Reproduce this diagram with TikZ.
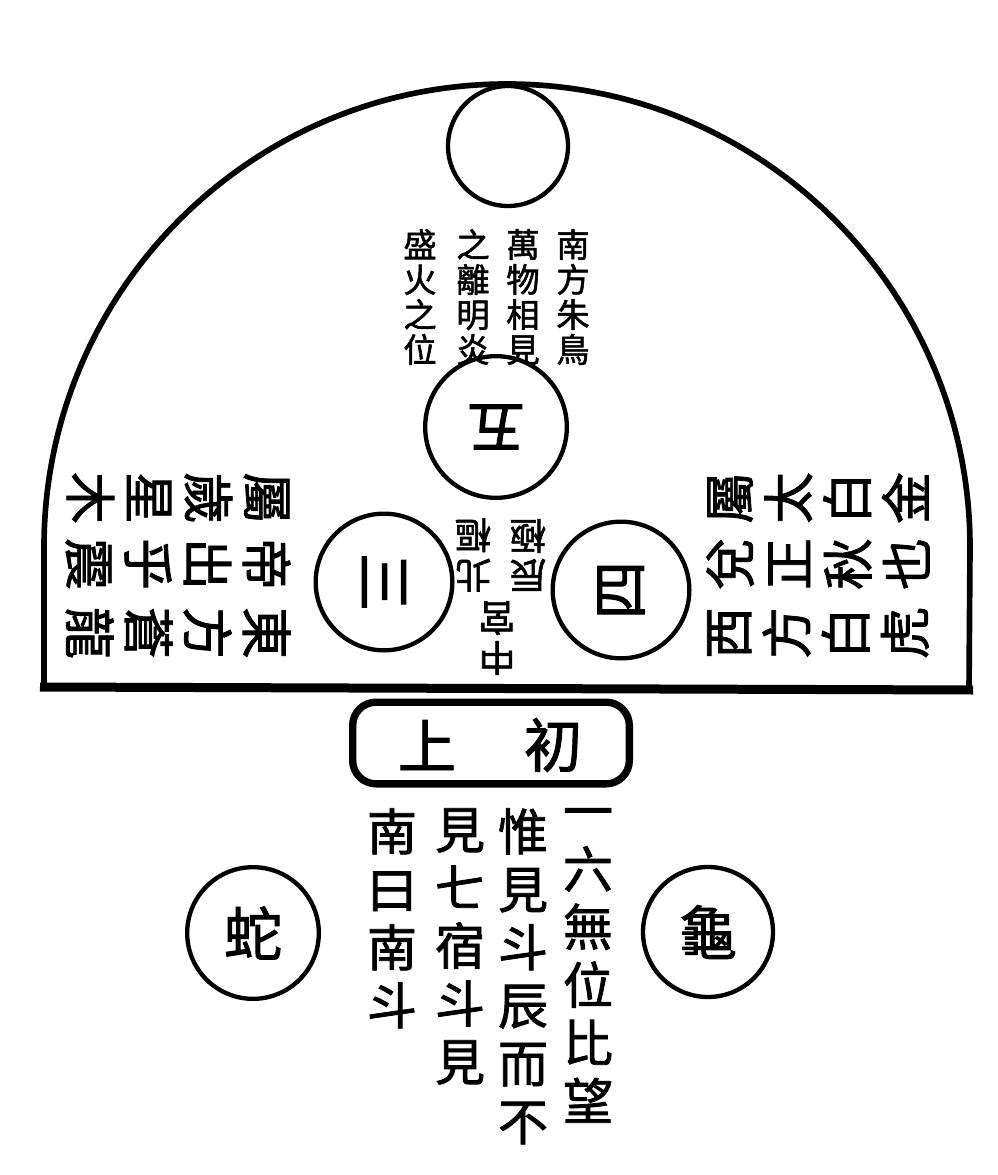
\documentclass[tikz,border=0pt]{standalone}
\usepackage{fontspec}
\newfontfamily\cjk{Noto Sans CJK TC}[FakeBold=1.6]
\begin{document}
\begin{tikzpicture}[x=0.6pt,y=-0.6pt,
  dome/.style={line width=3.4pt, line join=round},
  base/.style={line width=5.4pt},
  ring/.style={draw, circle, line width=2.6pt, inner sep=0pt},
  txt/.style={inner sep=0pt, align=center},
  toptxt/.style={txt, font=\cjk\fontsize{20}{21}\selectfont},
  sidetxt/.style={txt, font=\cjk\fontsize{31}{35.4}\selectfont},
  midtxt/.style={txt, font=\cjk\fontsize{22}{24}\selectfont},
  bigtxt/.style={font=\cjk\fontsize{35}{36}\selectfont},
  bottxt/.style={txt, font=\cjk\fontsize{30}{34.8}\selectfont},
  scroll/.style={draw, rounded corners=14pt, line width=4.4pt, inner sep=0pt}
]
\useasboundingbox (0,0) rectangle (997,1175);
\fill[white] (0,0) rectangle (997,1175);

% dome
\draw[dome] (44,688) -- (44,547) arc[start angle=180,end angle=360,radius=463] -- (969,690);
\draw[base] (40,687) -- (973,690);

% circles
\node[ring, minimum size=72pt] (sun) at (508,146) {};
\node[ring, minimum size=85pt, rotate=180, bigtxt] (wu) at (496,427) {五};
\node[ring, minimum size=82pt, rotate=-90, bigtxt] (san) at (384,582) {三};
\node[ring, minimum size=82pt, rotate=90, bigtxt] (si) at (621,590) {四};
\node[ring, minimum size=79pt, bigtxt] (she) at (253,933) {蛇};
\node[ring, minimum size=78pt, bigtxt] (gui) at (708,932) {龜};

% top text (upright, right to left)
\node[toptxt] (t1) at (573,297) {南\\方\\朱\\鳥};
\node[toptxt] (t2) at (523,297) {萬\\物\\相\\見};
\node[toptxt] (t3) at (473,297) {之\\離\\明\\炎};
\node[toptxt] (t4) at (420,297) {盛\\火\\之\\位};

% left block (rotated clockwise)
\node[sidetxt, rotate=-90] (l1) at (178,633) {東\\方\\蒼\\龍};
\node[sidetxt, rotate=-90] (l2) at (178,564) {帝\\出\\乎\\震};
\node[sidetxt, rotate=-90] (l3) at (178,498) {屬\\歲\\星\\木};

% right block (rotated counter-clockwise)
\node[sidetxt, rotate=90] (r1) at (818,633) {西\\方\\白\\虎};
\node[sidetxt, rotate=90] (r2) at (818,564) {兌\\正\\秋\\也};
\node[sidetxt, rotate=90] (r3) at (818,498) {屬\\太\\白\\金};

% centre text (upside down)
\node[midtxt, rotate=180] (c1) at (497,638) {中\\宮};
\node[midtxt, rotate=180] (c2) at (473,555) {北\\樞};
\node[midtxt, rotate=180] (c3) at (528,555) {辰\\極};

% scroll label
\node[scroll, minimum width=166pt, minimum height=49pt] (box) at (491,743) {};
\node[bigtxt, inner sep=0pt] (shang) at (427,745) {上};
\node[bigtxt, inner sep=0pt] (chu) at (553,745) {初};

% bottom columns
\node[bottxt, anchor=north] (b1) at (588,808) {一\\六\\無\\位\\比\\望};
\node[bottxt, anchor=north] (b2) at (523,808) {惟\\見\\斗\\辰\\而\\不};
\node[bottxt, anchor=north] (b3) at (460,808) {見\\七\\宿\\斗\\見};
\node[bottxt, anchor=north] (b4) at (392,808) {南\\曰\\南\\斗};
\end{tikzpicture}
\end{document}
